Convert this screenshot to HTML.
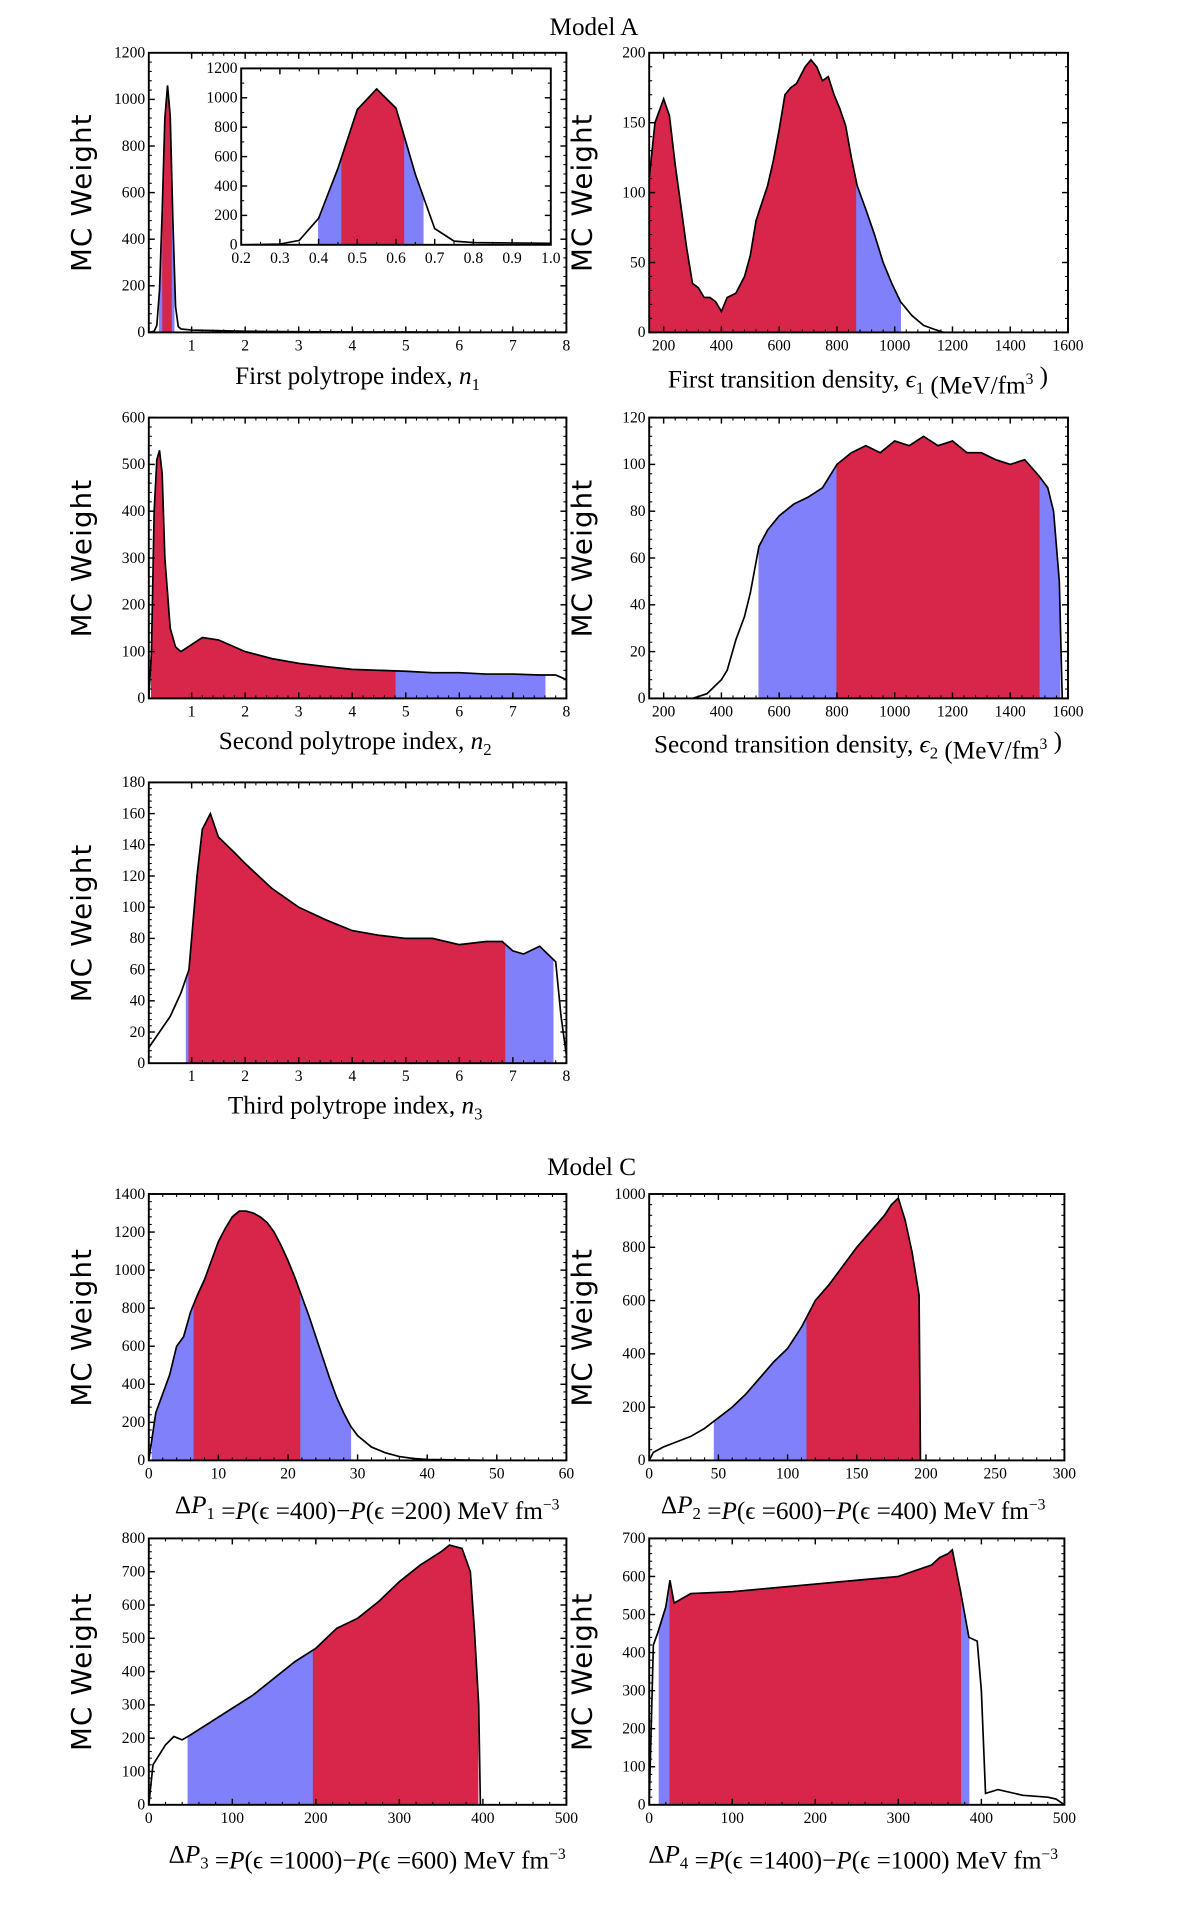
<!DOCTYPE html>
<html><head><meta charset="utf-8"><style>
html,body{margin:0;padding:0;background:#fff;}
svg{display:block;}
text{font-family:"Liberation Serif","DejaVu Serif",serif;fill:#000;}
</style></head><body>
<svg id="fig" width="1200" height="1906" viewBox="0 0 1000 1588.33" preserveAspectRatio="none" xmlns="http://www.w3.org/2000/svg">
<text x="495" y="29" font-size="21" text-anchor="middle">Model A</text>
<text x="493" y="979" font-size="21" text-anchor="middle">Model C</text>
</svg>
<script>
// ---- data arrays ----
const n1X=[0.2,0.3,0.35,0.4,0.45,0.5,0.55,0.6,0.65,0.7,0.75,0.8,1,2,3,4,5,6,7,8];
const n1Y=[0,5,30,180,520,920,1060,930,480,110,25,15,10,5,3,2,2,1,1,1];
const n1Blue=[0.40,0.67], n1Red=[0.46,0.62];
const e1X=[150,170,200,220,240,260,280,300,320,340,360,380,400,420,450,480,500,520,560,580,600,620,640,660,690,710,730,750,770,790,810,830,850,870,900,930,960,990,1020,1060,1100,1140,1170,1600];
const e1Y=[110,150,167,155,120,90,60,35,32,25,25,22,15,25,28,40,55,80,105,123,145,170,175,178,190,195,190,180,183,170,160,148,125,105,88,70,50,35,22,12,5,2,0,0];
const e1Blue=[150,1020], e1Red=[150,865];
const n2X=[0.2,0.25,0.3,0.35,0.4,0.45,0.5,0.6,0.7,0.8,1,1.2,1.5,2,2.5,3,3.5,4,4.5,5,5.5,6,6.5,7,7.5,7.8,8];
const n2Y=[0,100,400,510,530,480,300,150,110,100,115,130,125,100,85,75,68,62,60,58,55,55,52,52,50,50,40];
const n2Blue=[0.25,7.6], n2Red=[0.25,4.8];
const e2X=[300,350,400,420,450,480,500,530,560,600,650,700,750,800,850,900,950,1000,1050,1100,1150,1200,1250,1300,1350,1400,1450,1500,1530,1550,1570,1580];
const e2Y=[0,2,8,12,25,35,45,65,72,78,83,86,90,100,105,108,105,110,108,112,108,110,105,105,102,100,102,95,90,80,50,0];
const e2Blue=[530,1572], e2Red=[800,1500];
const n3X=[0.2,0.4,0.6,0.8,0.95,1.1,1.2,1.35,1.5,1.8,2,2.5,3,3.5,4,4.5,5,5.5,6,6.5,6.8,7,7.2,7.5,7.8,7.9,8];
const n3Y=[10,20,30,45,60,120,150,160,145,135,128,112,100,92,85,82,80,80,76,78,78,72,70,75,65,30,5];
const n3Blue=[0.9,7.75], n3Red=[0.95,6.85];
const p1X=[0,1,2,3,4,5,6,7,8,9,10,11,12,13,14,15,16,17,18,19,20,21,22,23,24,25,26,27,28,29,30,32,34,36,38,40,45,50,60];
const p1Y=[0,250,350,450,600,650,780,870,950,1050,1150,1220,1280,1310,1310,1300,1280,1250,1200,1130,1050,960,860,760,650,540,430,330,250,180,130,70,40,20,10,5,2,0,0];
const p1Blue=[0.5,29], p1Red=[6.5,21.7];
const p2X=[0,3,10,20,30,40,50,60,70,80,90,100,110,120,130,140,150,160,170,175,180,185,190,195,196];
const p2Y=[0,30,50,70,90,120,160,200,250,310,370,420,500,600,660,730,800,860,920,960,985,900,780,620,0];
const p2Blue=[47,196], p2Red=[114,196];
const p3X=[0,5,10,20,30,40,50,75,100,125,150,175,200,225,250,275,300,325,350,360,375,385,390,395,397];
const p3Y=[0,120,140,180,205,195,210,250,290,330,380,430,470,530,560,610,670,720,760,780,770,700,520,300,0];
const p3Blue=[47,394], p3Red=[197,394];
const p4X=[0,5,10,20,25,30,50,100,150,200,250,300,340,350,360,365,375,385,395,400,405,420,450,480,490,500];
const p4Y=[0,420,450,520,590,530,555,560,570,580,590,600,630,650,660,670,560,440,430,300,30,40,25,20,15,0];
const p4Blue=[12,385], p4Red=[25,375];

const SVGNS="http://www.w3.org/2000/svg";
const fig=document.getElementById('fig');
const RED="#d8254a", BLUE="#8080fb";
function mk(tag,attrs,parent){const e=document.createElementNS(SVGNS,tag);for(const k in attrs)e.setAttribute(k,attrs[k]);(parent||fig).appendChild(e);return e;}
function interp(xs,ys,x){if(x<=xs[0])return ys[0];for(let i=1;i<xs.length;i++){if(x<=xs[i]){const t=(x-xs[i-1])/(xs[i]-xs[i-1]);return ys[i-1]+t*(ys[i]-ys[i-1]);}}return ys[ys.length-1];}

function panel(name,box,xd,yd,xt,yt,xs,ys,blue,red,opt){
  opt=opt||{};
  const [L,T,R,B]=box;
  const sx=v=>L+(v-xd[0])/(xd[1]-xd[0])*(R-L);
  const sy=v=>B-(v-yd[0])/(yd[1]-yd[0])*(B-T);
  const g=mk('g',{});
  
  
  mk('rect',{x:L,y:T,width:R-L,height:B-T,fill:'#fff'},g);
  const clipId=name+'-clip';
  const cp=mk('clipPath',{id:clipId},g);mk('rect',{x:L,y:T,width:R-L,height:B-T},cp);
  const inner=mk('g',{'clip-path':'url(#'+clipId+')'},g);
  function region(iv,col,nm){
    const [a,b]=iv;let pts=[[sx(a),sy(0)],[sx(a),sy(interp(xs,ys,a))]];
    for(let i=0;i<xs.length;i++)if(xs[i]>a&&xs[i]<b)pts.push([sx(xs[i]),sy(ys[i])]);
    pts.push([sx(b),sy(interp(xs,ys,b))]);pts.push([sx(b),sy(0)]);
    const p=mk('polygon',{points:pts.map(q=>q.join(',')).join(' '),fill:col,stroke:col,'stroke-width':0.8},inner);
    
    
  }
  region(blue,BLUE,'ci95-region');
  region(red,RED,'ci68-region');
  const line=mk('polyline',{points:xs.map((x,i)=>sx(x)+','+sy(ys[i])).join(' '),fill:'none',stroke:'#000','stroke-width':1.4},inner);
  
  
  mk('rect',{x:L,y:T,width:R-L,height:B-T,fill:'none',stroke:'#000','stroke-width':1.6},g);
  const fs=opt.fs||13;
  const mn=opt.minor||5;
  for(let i=0;i<xt.length;i++){const x=sx(xt[i]);
    mk('line',{x1:x,y1:B,x2:x,y2:B-5,stroke:'#000','stroke-width':1.2},g);
    mk('line',{x1:x,y1:T,x2:x,y2:T+5,stroke:'#000','stroke-width':1.2},g);
    if(i<xt.length-1){const st=(xt[i+1]-xt[i])/mn;for(let k=1;k<mn;k++){const xm=sx(xt[i]+k*st);
      mk('line',{x1:xm,y1:B,x2:xm,y2:B-2.5,stroke:'#000','stroke-width':0.9},g);
      mk('line',{x1:xm,y1:T,x2:xm,y2:T+2.5,stroke:'#000','stroke-width':0.9},g);}}
    const t=mk('text',{x:x,y:B+fs+2,'font-size':fs,'text-anchor':'middle'},g);t.textContent=opt.xlab?opt.xlab[i]:xt[i];
    
    
  }
  for(let i=0;i<yt.length;i++){const y=sy(yt[i]);
    mk('line',{x1:L,y1:y,x2:L+5,y2:y,stroke:'#000','stroke-width':1.2},g);
    mk('line',{x1:R,y1:y,x2:R-5,y2:y,stroke:'#000','stroke-width':1.2},g);
    if(i<yt.length-1){const st=(yt[i+1]-yt[i])/mn;for(let k=1;k<mn;k++){const ym=sy(yt[i]+k*st);
      mk('line',{x1:L,y1:ym,x2:L+2.5,y2:ym,stroke:'#000','stroke-width':0.9},g);
      mk('line',{x1:R,y1:ym,x2:R-2.5,y2:ym,stroke:'#000','stroke-width':0.9},g);}}
    const t=mk('text',{x:L-3,y:y+4,'font-size':fs,'text-anchor':'end'},g);t.textContent=yt[i];
    
    
  }
  if(!opt.noYTitle){
    const cy=(T+B)/2, cx=L-48;
    const yl=mk('text',{x:cx,y:cy,'font-size':23,'text-anchor':'middle',transform:'rotate(-90 '+cx+' '+cy+')',style:'font-family:"DejaVu Sans","Liberation Sans",sans-serif;letter-spacing:1px'},g);
    yl.textContent='MC Weight';
    
    
  }
  return g;
}
function xtitle(html,x,y,fs){
  const t=mk('text',{x:x,y:y,'font-size':fs||21,'text-anchor':'middle'});
  t.innerHTML=html;
  
  
}
const sub=s=>'<tspan font-size="14" dy="5">'+s+'</tspan><tspan dy="-5"></tspan>';
const sup=s=>'<tspan font-size="13" dy="-8">'+s+'</tspan><tspan dy="8"></tspan>';
const it=s=>'<tspan font-style="italic">'+s+'</tspan>';

panel('panel-n1',[124,44,472,277],[0.2,8],[0,1200],[1,2,3,4,5,6,7,8],[0,200,400,600,800,1000,1200],n1X,n1Y,n1Blue,n1Red);
panel('inset-n1',[201,57,459,204],[0.2,1.0],[0,1200],[0.2,0.3,0.4,0.5,0.6,0.7,0.8,0.9,1.0],[0,200,400,600,800,1000,1200],n1X,n1Y,n1Blue,n1Red,{noYTitle:true,minor:2,xlab:['0.2','0.3','0.4','0.5','0.6','0.7','0.8','0.9','1.0']});
panel('panel-e1',[541,44,890,277],[150,1600],[0,200],[200,400,600,800,1000,1200,1400,1600],[0,50,100,150,200],e1X,e1Y,e1Blue,e1Red);
panel('panel-n2',[124,348,472,582],[0.2,8],[0,600],[1,2,3,4,5,6,7,8],[0,100,200,300,400,500,600],n2X,n2Y,n2Blue,n2Red);
panel('panel-e2',[541,348,890,582],[150,1600],[0,120],[200,400,600,800,1000,1200,1400,1600],[0,20,40,60,80,100,120],e2X,e2Y,e2Blue,e2Red);
panel('panel-n3',[124,652,472,886],[0.2,8],[0,180],[1,2,3,4,5,6,7,8],[0,20,40,60,80,100,120,140,160,180],n3X,n3Y,n3Blue,n3Red);
panel('panel-p1',[124,995,472,1217],[0,60],[0,1400],[0,10,20,30,40,50,60],[0,200,400,600,800,1000,1200,1400],p1X,p1Y,p1Blue,p1Red);
panel('panel-p2',[541,995,887,1217],[0,300],[0,1000],[0,50,100,150,200,250,300],[0,200,400,600,800,1000],p2X,p2Y,p2Blue,p2Red);
panel('panel-p3',[124,1282,472,1504],[0,500],[0,800],[0,100,200,300,400,500],[0,100,200,300,400,500,600,700,800],p3X,p3Y,p3Blue,p3Red);
panel('panel-p4',[541,1282,887,1504],[0,500],[0,700],[0,100,200,300,400,500],[0,100,200,300,400,500,600,700],p4X,p4Y,p4Blue,p4Red);

xtitle('First polytrope index, '+it('n')+sub('1'),298,320);
xtitle('First transition density, '+it('ϵ')+sub('1')+' (MeV/fm'+sup('3')+' )',715,323);
xtitle('Second polytrope index, '+it('n')+sub('2'),296,624);
xtitle('Second transition density, '+it('ϵ')+sub('2')+' (MeV/fm'+sup('3')+' )',715,627);
xtitle('Third polytrope index, '+it('n')+sub('3'),296,928);
xtitle('Δ'+it('P')+sub('1')+' ='+it('P')+'(ϵ =400)−'+it('P')+'(ϵ =200) MeV fm'+sup('−3'),306,1261);
xtitle('Δ'+it('P')+sub('2')+' ='+it('P')+'(ϵ =600)−'+it('P')+'(ϵ =400) MeV fm'+sup('−3'),711,1261);
xtitle('Δ'+it('P')+sub('3')+' ='+it('P')+'(ϵ =1000)−'+it('P')+'(ϵ =600) MeV fm'+sup('−3'),306,1552);
xtitle('Δ'+it('P')+sub('4')+' ='+it('P')+'(ϵ =1400)−'+it('P')+'(ϵ =1000) MeV fm'+sup('−3'),711,1552);
</script>
</body></html>
